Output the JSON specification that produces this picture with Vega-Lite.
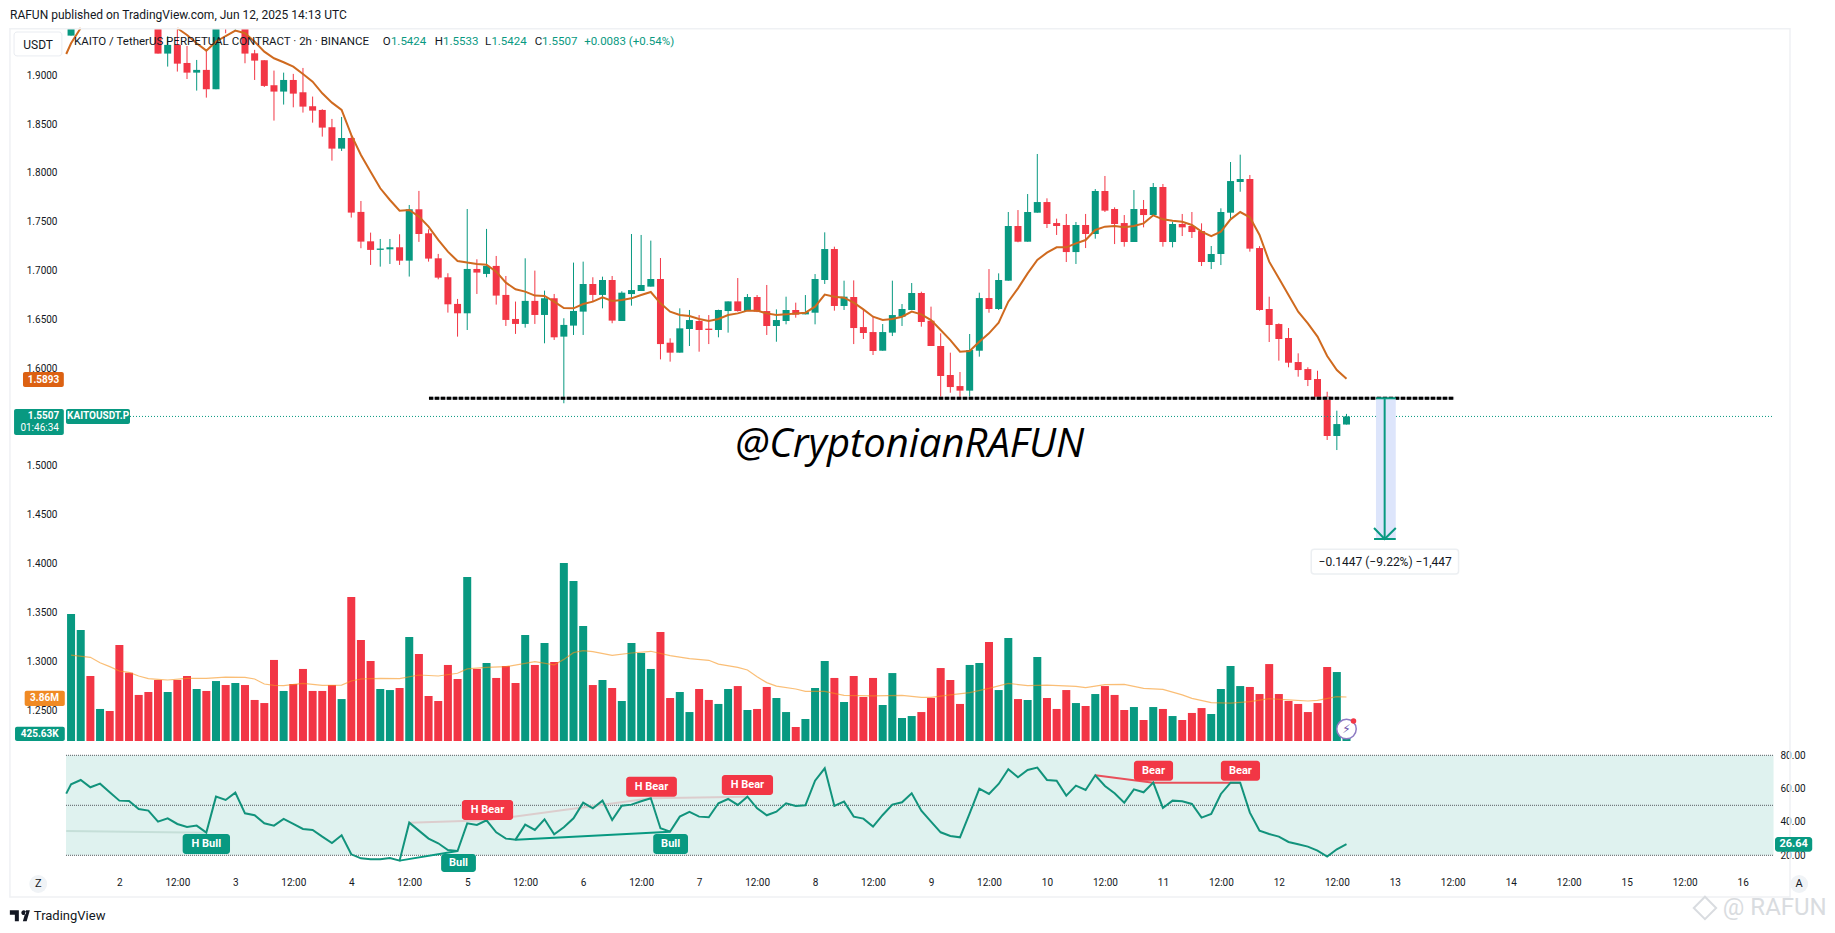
{
"$schema":"https://vega.github.io/schema/vega-lite/v6.json",
"width":1835,"height":933,"padding":0,"autosize":{"type":"none"},"background":"white",
"title":{"text":"RAFUN published on TradingView.com, Jun 12, 2025 14:13 UTC","anchor":"start","frame":"group","dx":10,"dy":3,"offset":-19,"fontSize":12,"fontWeight":"normal","font":"Roboto","color":"#131722"},
"config":{"view":{"stroke":null},"text":{"font":"Roboto","color":"#131722"}},
"datasets":{
"bars":[
{"t":"2025-06-01T13:00Z","ma":1.9218,"rsi":57},
{"t":"2025-06-01T14:00Z","o":1.9406,"h":1.985,"l":1.9406,"c":1.98,"v":11.14,"ma":1.9327,"rsi":62.6},
{"t":"2025-06-01T16:00Z","o":1.97,"h":1.985,"l":1.965,"c":1.98,"v":9.74,"ma":1.955,"rsi":65.2},
{"t":"2025-06-01T18:00Z","o":1.98,"h":1.985,"l":1.97,"c":1.975,"v":5.7,"ma":null,"rsi":60.8},
{"t":"2025-06-01T20:00Z","o":1.975,"h":1.985,"l":1.97,"c":1.98,"v":2.81,"ma":null,"rsi":63},
{"t":"2025-06-01T22:00Z","o":1.98,"h":1.985,"l":1.97,"c":1.975,"v":2.63,"ma":null,"rsi":57.8},
{"t":"2025-06-02T00:00Z","o":1.975,"h":1.98,"l":1.965,"c":1.97,"v":8.42,"ma":null,"rsi":52.8},
{"t":"2025-06-02T02:00Z","o":1.97,"h":1.975,"l":1.96,"c":1.965,"v":5.99,"ma":null,"rsi":52.6},
{"t":"2025-06-02T04:00Z","o":1.965,"h":1.97,"l":1.955,"c":1.96,"v":4.04,"ma":null,"rsi":47.8},
{"t":"2025-06-02T06:00Z","o":1.96,"h":1.965,"l":1.95,"c":1.955,"v":4.3,"ma":null,"rsi":46.8},
{"t":"2025-06-02T08:00Z","o":1.955,"h":1.96,"l":1.9222,"c":1.9222,"v":5.35,"ma":null,"rsi":40.2},
{"t":"2025-06-02T10:00Z","o":1.9222,"h":1.94,"l":1.9089,"c":1.9311,"v":4.3,"ma":null,"rsi":42.2},
{"t":"2025-06-02T12:00Z","o":1.9311,"h":1.9498,"l":1.9038,"c":1.9119,"v":5.35,"ma":1.9481,"rsi":38.8},
{"t":"2025-06-02T14:00Z","o":1.9126,"h":1.93,"l":1.8962,"c":1.9027,"v":5.7,"ma":1.9412,"rsi":37},
{"t":"2025-06-02T16:00Z","o":1.9027,"h":1.9157,"l":1.8843,"c":1.9055,"v":4.56,"ma":1.9327,"rsi":37.8},
{"t":"2025-06-02T18:00Z","o":1.9055,"h":1.9259,"l":1.8771,"c":1.8857,"v":4.39,"ma":1.9252,"rsi":33.6},
{"t":"2025-06-02T20:00Z","o":1.8857,"h":1.96,"l":1.8857,"c":1.955,"v":5.26,"ma":1.9344,"rsi":55.2},
{"t":"2025-06-02T22:00Z","o":1.96,"h":1.965,"l":1.943,"c":1.955,"v":4.91,"ma":1.9402,"rsi":53.2},
{"t":"2025-06-03T00:00Z","o":1.955,"h":1.97,"l":1.945,"c":1.965,"v":5.09,"ma":1.9457,"rsi":57.6},
{"t":"2025-06-03T02:00Z","o":1.965,"h":1.97,"l":1.9123,"c":1.9222,"v":4.91,"ma":1.943,"rsi":45.2},
{"t":"2025-06-03T04:00Z","o":1.9225,"h":1.926,"l":1.8952,"c":1.915,"v":3.6,"ma":1.9344,"rsi":44},
{"t":"2025-06-03T06:00Z","o":1.9154,"h":1.9154,"l":1.888,"c":1.8891,"v":3.33,"ma":1.9242,"rsi":39.2},
{"t":"2025-06-03T08:00Z","o":1.8898,"h":1.9048,"l":1.8536,"c":1.8833,"v":7.11,"ma":1.9174,"rsi":37.8},
{"t":"2025-06-03T10:00Z","o":1.8833,"h":1.9027,"l":1.87,"c":1.8952,"v":4.39,"ma":1.9133,"rsi":41.8},
{"t":"2025-06-03T12:00Z","o":1.8952,"h":1.9014,"l":1.8672,"c":1.8812,"v":5,"ma":1.9088,"rsi":38.8},
{"t":"2025-06-03T14:00Z","o":1.8826,"h":1.9075,"l":1.8618,"c":1.8679,"v":6.32,"ma":1.9013,"rsi":35.8},
{"t":"2025-06-03T16:00Z","o":1.8683,"h":1.8782,"l":1.8515,"c":1.8638,"v":4.39,"ma":1.8935,"rsi":35.2},
{"t":"2025-06-03T18:00Z","o":1.8645,"h":1.8652,"l":1.8372,"c":1.8464,"v":4.39,"ma":1.8815,"rsi":31.2},
{"t":"2025-06-03T20:00Z","o":1.8468,"h":1.8553,"l":1.8126,"c":1.8249,"v":4.91,"ma":1.872,"rsi":27.4},
{"t":"2025-06-03T22:00Z","o":1.8249,"h":1.8573,"l":1.8225,"c":1.8358,"v":3.68,"ma":1.8645,"rsi":32},
{"t":"2025-06-04T00:00Z","o":1.8358,"h":1.8389,"l":1.7543,"c":1.7594,"v":12.63,"ma":1.8389,"rsi":20.6},
{"t":"2025-06-04T02:00Z","o":1.7601,"h":1.7713,"l":1.7229,"c":1.7297,"v":8.86,"ma":1.8184,"rsi":18.2},
{"t":"2025-06-04T04:00Z","o":1.73,"h":1.7389,"l":1.7058,"c":1.7212,"v":7.02,"ma":1.8013,"rsi":17.6},
{"t":"2025-06-04T06:00Z","o":1.7212,"h":1.7324,"l":1.7041,"c":1.7226,"v":4.56,"ma":1.7843,"rsi":17.6},
{"t":"2025-06-04T08:00Z","o":1.7218,"h":1.7324,"l":1.7068,"c":1.7239,"v":4.47,"ma":1.7723,"rsi":18.4},
{"t":"2025-06-04T10:00Z","o":1.7239,"h":1.7372,"l":1.7058,"c":1.7102,"v":4.65,"ma":1.7614,"rsi":16.8},
{"t":"2025-06-04T12:00Z","o":1.7102,"h":1.7672,"l":1.6939,"c":1.7628,"v":9.12,"ma":1.7621,"rsi":39.6},
{"t":"2025-06-04T14:00Z","o":1.7628,"h":1.7816,"l":1.7294,"c":1.7375,"v":7.63,"ma":1.7553,"rsi":34.8},
{"t":"2025-06-04T16:00Z","o":1.7382,"h":1.7423,"l":1.7092,"c":1.7123,"v":3.95,"ma":1.745,"rsi":30},
{"t":"2025-06-04T18:00Z","o":1.7126,"h":1.7171,"l":1.6911,"c":1.6928,"v":3.51,"ma":1.7314,"rsi":27.2},
{"t":"2025-06-04T20:00Z","o":1.6932,"h":1.6973,"l":1.657,"c":1.6655,"v":6.67,"ma":1.7194,"rsi":23.2},
{"t":"2025-06-04T22:00Z","o":1.6659,"h":1.671,"l":1.6324,"c":1.6563,"v":5.44,"ma":1.7099,"rsi":22.6},
{"t":"2025-06-05T00:00Z","o":1.6563,"h":1.7631,"l":1.6392,"c":1.7017,"v":14.39,"ma":1.7082,"rsi":39.2},
{"t":"2025-06-05T02:00Z","o":1.7017,"h":1.7116,"l":1.6761,"c":1.698,"v":6.32,"ma":1.7068,"rsi":38.2},
{"t":"2025-06-05T04:00Z","o":1.6966,"h":1.7427,"l":1.6932,"c":1.7048,"v":6.84,"ma":1.7061,"rsi":41},
{"t":"2025-06-05T06:00Z","o":1.7048,"h":1.715,"l":1.6652,"c":1.6744,"v":5.53,"ma":1.6989,"rsi":33.8},
{"t":"2025-06-05T08:00Z","o":1.6751,"h":1.6945,"l":1.6433,"c":1.6495,"v":6.58,"ma":1.6877,"rsi":30},
{"t":"2025-06-05T10:00Z","o":1.6505,"h":1.6683,"l":1.6352,"c":1.6454,"v":5.09,"ma":1.6809,"rsi":29.4},
{"t":"2025-06-05T12:00Z","o":1.6454,"h":1.7126,"l":1.6416,"c":1.669,"v":9.3,"ma":1.6785,"rsi":38.4},
{"t":"2025-06-05T14:00Z","o":1.669,"h":1.7,"l":1.6454,"c":1.6546,"v":6.67,"ma":1.6744,"rsi":35.2},
{"t":"2025-06-05T16:00Z","o":1.6546,"h":1.6795,"l":1.6256,"c":1.6717,"v":8.6,"ma":1.674,"rsi":41.6},
{"t":"2025-06-05T18:00Z","o":1.6717,"h":1.6761,"l":1.629,"c":1.6317,"v":6.93,"ma":1.6682,"rsi":32.6},
{"t":"2025-06-05T20:00Z","o":1.6324,"h":1.6512,"l":1.5642,"c":1.6444,"v":15.61,"ma":1.6617,"rsi":36.8},
{"t":"2025-06-05T22:00Z","o":1.6437,"h":1.7082,"l":1.6341,"c":1.6587,"v":14.04,"ma":1.6614,"rsi":42.2},
{"t":"2025-06-06T00:00Z","o":1.658,"h":1.7092,"l":1.6341,"c":1.6863,"v":10.09,"ma":1.6658,"rsi":51.6},
{"t":"2025-06-06T02:00Z","o":1.6863,"h":1.6932,"l":1.668,"c":1.6751,"v":4.91,"ma":1.6682,"rsi":48.2},
{"t":"2025-06-06T04:00Z","o":1.6751,"h":1.6938,"l":1.6614,"c":1.6904,"v":5.35,"ma":1.6727,"rsi":52.8},
{"t":"2025-06-06T06:00Z","o":1.6904,"h":1.6945,"l":1.6461,"c":1.6488,"v":4.65,"ma":1.6689,"rsi":41.2},
{"t":"2025-06-06T08:00Z","o":1.6484,"h":1.6788,"l":1.6484,"c":1.6774,"v":3.51,"ma":1.6699,"rsi":49.8},
{"t":"2025-06-06T10:00Z","o":1.676,"h":1.7375,"l":1.6641,"c":1.6801,"v":8.6,"ma":1.6716,"rsi":50.4},
{"t":"2025-06-06T12:00Z","o":1.6791,"h":1.7365,"l":1.6791,"c":1.6853,"v":7.72,"ma":1.675,"rsi":52.4},
{"t":"2025-06-06T14:00Z","o":1.6836,"h":1.7307,"l":1.6836,"c":1.6914,"v":6.32,"ma":1.6781,"rsi":54.2},
{"t":"2025-06-06T16:00Z","o":1.6914,"h":1.7129,"l":1.6091,"c":1.6248,"v":9.56,"ma":1.6665,"rsi":36.2},
{"t":"2025-06-06T18:00Z","o":1.6262,"h":1.6307,"l":1.6068,"c":1.616,"v":3.77,"ma":1.658,"rsi":34.2},
{"t":"2025-06-06T20:00Z","o":1.616,"h":1.6614,"l":1.616,"c":1.6409,"v":4.3,"ma":1.6545,"rsi":43.2},
{"t":"2025-06-06T22:00Z","o":1.6402,"h":1.6597,"l":1.6228,"c":1.6494,"v":2.54,"ma":1.6535,"rsi":46},
{"t":"2025-06-07T00:00Z","o":1.6484,"h":1.6545,"l":1.617,"c":1.6392,"v":4.56,"ma":1.6505,"rsi":43.2},
{"t":"2025-06-07T02:00Z","o":1.6406,"h":1.6545,"l":1.6248,"c":1.6392,"v":3.6,"ma":1.6484,"rsi":42.8},
{"t":"2025-06-07T04:00Z","o":1.6392,"h":1.66,"l":1.6317,"c":1.6597,"v":3.25,"ma":1.6505,"rsi":51.2},
{"t":"2025-06-07T06:00Z","o":1.6586,"h":1.6685,"l":1.6365,"c":1.6685,"v":4.56,"ma":1.6545,"rsi":53.8},
{"t":"2025-06-07T08:00Z","o":1.6685,"h":1.6924,"l":1.658,"c":1.6586,"v":4.82,"ma":1.6562,"rsi":50.2},
{"t":"2025-06-07T10:00Z","o":1.6586,"h":1.676,"l":1.6586,"c":1.673,"v":2.72,"ma":1.659,"rsi":55.2},
{"t":"2025-06-07T12:00Z","o":1.673,"h":1.675,"l":1.6575,"c":1.658,"v":2.81,"ma":1.659,"rsi":48.2},
{"t":"2025-06-07T14:00Z","o":1.6586,"h":1.6853,"l":1.6341,"c":1.6433,"v":4.74,"ma":1.6562,"rsi":44},
{"t":"2025-06-07T16:00Z","o":1.6433,"h":1.6603,"l":1.6272,"c":1.6494,"v":3.77,"ma":1.6545,"rsi":46.2},
{"t":"2025-06-07T18:00Z","o":1.6484,"h":1.6733,"l":1.645,"c":1.6597,"v":2.54,"ma":1.6552,"rsi":51.2},
{"t":"2025-06-07T20:00Z","o":1.6597,"h":1.6672,"l":1.6518,"c":1.6549,"v":1.23,"ma":1.6562,"rsi":49.6},
{"t":"2025-06-07T22:00Z","o":1.6552,"h":1.675,"l":1.6552,"c":1.6576,"v":1.93,"ma":1.6569,"rsi":50},
{"t":"2025-06-08T00:00Z","o":1.6569,"h":1.6965,"l":1.645,"c":1.6914,"v":4.65,"ma":1.6631,"rsi":64.8},
{"t":"2025-06-08T02:00Z","o":1.6904,"h":1.7392,"l":1.6863,"c":1.7221,"v":7.02,"ma":1.6754,"rsi":72.2},
{"t":"2025-06-08T04:00Z","o":1.7221,"h":1.7245,"l":1.659,"c":1.6638,"v":5.53,"ma":1.6733,"rsi":49.6},
{"t":"2025-06-08T06:00Z","o":1.6638,"h":1.6897,"l":1.6597,"c":1.6733,"v":3.42,"ma":1.6723,"rsi":52.2},
{"t":"2025-06-08T08:00Z","o":1.673,"h":1.69,"l":1.6248,"c":1.6412,"v":5.7,"ma":1.6672,"rsi":43.2},
{"t":"2025-06-08T10:00Z","o":1.6422,"h":1.6597,"l":1.63,"c":1.6361,"v":3.86,"ma":1.6603,"rsi":42},
{"t":"2025-06-08T12:00Z","o":1.6371,"h":1.6528,"l":1.6136,"c":1.6177,"v":5.53,"ma":1.6528,"rsi":37.2},
{"t":"2025-06-08T14:00Z","o":1.618,"h":1.6453,"l":1.618,"c":1.6371,"v":3.16,"ma":1.6494,"rsi":44.2},
{"t":"2025-06-08T16:00Z","o":1.6365,"h":1.6897,"l":1.633,"c":1.6545,"v":5.96,"ma":1.6505,"rsi":50.4},
{"t":"2025-06-08T18:00Z","o":1.6528,"h":1.6658,"l":1.6433,"c":1.6607,"v":2.02,"ma":1.6528,"rsi":51.8},
{"t":"2025-06-08T20:00Z","o":1.6597,"h":1.6873,"l":1.6597,"c":1.6771,"v":2.19,"ma":1.658,"rsi":57.2},
{"t":"2025-06-08T22:00Z","o":1.6771,"h":1.6784,"l":1.6426,"c":1.6474,"v":2.54,"ma":1.6552,"rsi":46.8},
{"t":"2025-06-09T00:00Z","o":1.6487,"h":1.6631,"l":1.6228,"c":1.6228,"v":3.77,"ma":1.6494,"rsi":40.2},
{"t":"2025-06-09T02:00Z","o":1.6228,"h":1.6358,"l":1.5709,"c":1.5921,"v":6.4,"ma":1.6392,"rsi":33.8},
{"t":"2025-06-09T04:00Z","o":1.5931,"h":1.616,"l":1.575,"c":1.5808,"v":5.35,"ma":1.6289,"rsi":31.6},
{"t":"2025-06-09T06:00Z","o":1.5818,"h":1.5962,"l":1.5682,"c":1.5771,"v":3.25,"ma":1.617,"rsi":30.8},
{"t":"2025-06-09T08:00Z","o":1.5771,"h":1.6351,"l":1.5709,"c":1.6187,"v":6.67,"ma":1.6177,"rsi":45.2},
{"t":"2025-06-09T10:00Z","o":1.618,"h":1.6774,"l":1.6119,"c":1.6719,"v":6.84,"ma":1.6272,"rsi":60},
{"t":"2025-06-09T12:00Z","o":1.6719,"h":1.7016,"l":1.6569,"c":1.6607,"v":8.68,"ma":1.6358,"rsi":56.8},
{"t":"2025-06-09T14:00Z","o":1.6607,"h":1.6972,"l":1.6597,"c":1.6904,"v":4.47,"ma":1.6467,"rsi":62.8},
{"t":"2025-06-09T16:00Z","o":1.6897,"h":1.76,"l":1.6897,"c":1.7457,"v":9.04,"ma":1.6682,"rsi":71.6},
{"t":"2025-06-09T18:00Z","o":1.7457,"h":1.762,"l":1.729,"c":1.7296,"v":3.68,"ma":1.6818,"rsi":66.8},
{"t":"2025-06-09T20:00Z","o":1.7296,"h":1.7784,"l":1.7296,"c":1.76,"v":3.6,"ma":1.6972,"rsi":71.2},
{"t":"2025-06-09T22:00Z","o":1.7593,"h":1.8194,"l":1.7593,"c":1.7702,"v":7.37,"ma":1.7109,"rsi":72.6},
{"t":"2025-06-10T00:00Z","o":1.7702,"h":1.774,"l":1.7436,"c":1.7477,"v":3.77,"ma":1.7184,"rsi":65.2},
{"t":"2025-06-10T02:00Z","o":1.7487,"h":1.7532,"l":1.7365,"c":1.7457,"v":2.81,"ma":1.7238,"rsi":64.8},
{"t":"2025-06-10T04:00Z","o":1.7467,"h":1.758,"l":1.7088,"c":1.719,"v":4.47,"ma":1.7238,"rsi":55.8},
{"t":"2025-06-10T06:00Z","o":1.719,"h":1.7498,"l":1.7068,"c":1.7467,"v":3.33,"ma":1.7279,"rsi":61.8},
{"t":"2025-06-10T08:00Z","o":1.7467,"h":1.758,"l":1.7231,"c":1.7375,"v":3.07,"ma":1.7313,"rsi":59.2},
{"t":"2025-06-10T10:00Z","o":1.7375,"h":1.7835,"l":1.7327,"c":1.7815,"v":4.12,"ma":1.7416,"rsi":68},
{"t":"2025-06-10T12:00Z","o":1.7815,"h":1.7969,"l":1.76,"c":1.7614,"v":4.82,"ma":1.745,"rsi":61.6},
{"t":"2025-06-10T14:00Z","o":1.7631,"h":1.7648,"l":1.7272,"c":1.7477,"v":4.04,"ma":1.7457,"rsi":57.2},
{"t":"2025-06-10T16:00Z","o":1.7487,"h":1.7569,"l":1.7245,"c":1.7293,"v":2.72,"ma":1.7443,"rsi":51.6},
{"t":"2025-06-10T18:00Z","o":1.7293,"h":1.7825,"l":1.7293,"c":1.7631,"v":2.98,"ma":1.7457,"rsi":59.6},
{"t":"2025-06-10T20:00Z","o":1.7631,"h":1.7723,"l":1.7443,"c":1.7569,"v":1.84,"ma":1.7484,"rsi":57.8},
{"t":"2025-06-10T22:00Z","o":1.7569,"h":1.7897,"l":1.7569,"c":1.7856,"v":2.98,"ma":1.7566,"rsi":63.6},
{"t":"2025-06-11T00:00Z","o":1.7856,"h":1.7887,"l":1.7245,"c":1.7293,"v":2.81,"ma":1.7525,"rsi":48.4},
{"t":"2025-06-11T02:00Z","o":1.7293,"h":1.7501,"l":1.7238,"c":1.7477,"v":2.19,"ma":1.7511,"rsi":52.8},
{"t":"2025-06-11T04:00Z","o":1.7477,"h":1.758,"l":1.7354,"c":1.7443,"v":1.84,"ma":1.7501,"rsi":52.4},
{"t":"2025-06-11T06:00Z","o":1.7457,"h":1.76,"l":1.7334,"c":1.7395,"v":2.46,"ma":1.7467,"rsi":50.8},
{"t":"2025-06-11T08:00Z","o":1.7405,"h":1.7484,"l":1.7047,"c":1.7088,"v":2.89,"ma":1.7399,"rsi":42.6},
{"t":"2025-06-11T10:00Z","o":1.7088,"h":1.7252,"l":1.7016,"c":1.717,"v":2.37,"ma":1.7354,"rsi":44.8},
{"t":"2025-06-11T12:00Z","o":1.717,"h":1.7638,"l":1.7057,"c":1.76,"v":4.56,"ma":1.7399,"rsi":56.8},
{"t":"2025-06-11T14:00Z","o":1.7593,"h":1.8112,"l":1.7535,"c":1.7917,"v":6.58,"ma":1.7525,"rsi":63.6},
{"t":"2025-06-11T16:00Z","o":1.7907,"h":1.8187,"l":1.7808,"c":1.7938,"v":4.82,"ma":1.76,"rsi":63.6},
{"t":"2025-06-11T18:00Z","o":1.7938,"h":1.7979,"l":1.7194,"c":1.7225,"v":4.74,"ma":1.7546,"rsi":45.6},
{"t":"2025-06-11T20:00Z","o":1.7231,"h":1.725,"l":1.659,"c":1.6597,"v":4.12,"ma":1.7365,"rsi":34.8},
{"t":"2025-06-11T22:00Z","o":1.6607,"h":1.6733,"l":1.6269,"c":1.6443,"v":6.75,"ma":1.7092,"rsi":32.8},
{"t":"2025-06-12T00:00Z","o":1.6453,"h":1.646,"l":1.6078,"c":1.63,"v":4.12,"ma":1.6921,"rsi":31.2},
{"t":"2025-06-12T02:00Z","o":1.631,"h":1.6412,"l":1.601,"c":1.6057,"v":3.51,"ma":1.675,"rsi":28},
{"t":"2025-06-12T04:00Z","o":1.6064,"h":1.6153,"l":1.5914,"c":1.5982,"v":3.25,"ma":1.658,"rsi":26.6},
{"t":"2025-06-12T06:00Z","o":1.5992,"h":1.601,"l":1.5818,"c":1.588,"v":2.54,"ma":1.646,"rsi":25.2},
{"t":"2025-06-12T08:00Z","o":1.589,"h":1.5975,"l":1.5695,"c":1.5702,"v":3.33,"ma":1.6324,"rsi":22.8},
{"t":"2025-06-12T10:00Z","o":1.5709,"h":1.576,"l":1.5266,"c":1.5307,"v":6.49,"ma":1.6126,"rsi":19.2},
{"t":"2025-06-12T12:00Z","o":1.5307,"h":1.5566,"l":1.5163,"c":1.5429,"v":6.05,"ma":1.5982,"rsi":23.6},
{"t":"2025-06-12T14:00Z","o":1.5424,"h":1.5533,"l":1.5424,"c":1.5507,"v":0.43,"ma":1.5893,"rsi":26.64}
],
"vma":[
{"t":"2025-06-01T14:00Z","m":7.54},{"t":"2025-06-01T18:00Z","m":7.34},{"t":"2025-06-01T20:00Z","m":6.87},{"t":"2025-06-01T22:00Z","m":6.52},{"t":"2025-06-02T00:00Z","m":6.14},{"t":"2025-06-02T02:00Z","m":6.02},{"t":"2025-06-02T04:00Z","m":5.7},{"t":"2025-06-02T06:00Z","m":5.47},{"t":"2025-06-02T08:00Z","m":5.41},{"t":"2025-06-02T10:00Z","m":5.35},{"t":"2025-06-02T14:00Z","m":5.5},{"t":"2025-06-02T18:00Z","m":5.5},{"t":"2025-06-02T22:00Z","m":5.61},{"t":"2025-06-03T02:00Z","m":5.58},{"t":"2025-06-03T04:00Z","m":5.44},{"t":"2025-06-03T06:00Z","m":5},{"t":"2025-06-03T08:00Z","m":4.88},{"t":"2025-06-03T10:00Z","m":4.85},{"t":"2025-06-03T14:00Z","m":5.06},{"t":"2025-06-03T18:00Z","m":4.88},{"t":"2025-06-03T22:00Z","m":4.91},{"t":"2025-06-04T00:00Z","m":5.26},{"t":"2025-06-04T02:00Z","m":5.44},{"t":"2025-06-04T06:00Z","m":5.5},{"t":"2025-06-04T10:00Z","m":5.47},{"t":"2025-06-04T14:00Z","m":5.79},{"t":"2025-06-04T18:00Z","m":5.7},{"t":"2025-06-04T22:00Z","m":5.94},{"t":"2025-06-05T00:00Z","m":6.32},{"t":"2025-06-05T04:00Z","m":6.46},{"t":"2025-06-05T08:00Z","m":6.52},{"t":"2025-06-05T12:00Z","m":6.81},{"t":"2025-06-05T14:00Z","m":6.96},{"t":"2025-06-05T18:00Z","m":6.67},{"t":"2025-06-05T20:00Z","m":7.16},{"t":"2025-06-05T22:00Z","m":7.75},{"t":"2025-06-06T00:00Z","m":7.92},{"t":"2025-06-06T02:00Z","m":7.84},{"t":"2025-06-06T06:00Z","m":7.51},{"t":"2025-06-06T10:00Z","m":7.72},{"t":"2025-06-06T14:00Z","m":7.87},{"t":"2025-06-06T18:00Z","m":7.49},{"t":"2025-06-06T22:00Z","m":7.22},{"t":"2025-06-07T02:00Z","m":7.08},{"t":"2025-06-07T04:00Z","m":6.75},{"t":"2025-06-07T08:00Z","m":6.46},{"t":"2025-06-07T10:00Z","m":6.23},{"t":"2025-06-07T12:00Z","m":5.64},{"t":"2025-06-07T14:00Z","m":5.12},{"t":"2025-06-07T16:00Z","m":4.82},{"t":"2025-06-07T20:00Z","m":4.56},{"t":"2025-06-07T22:00Z","m":4.36},{"t":"2025-06-08T02:00Z","m":4.36},{"t":"2025-06-08T06:00Z","m":4.01},{"t":"2025-06-08T12:00Z","m":3.95},{"t":"2025-06-08T18:00Z","m":4.01},{"t":"2025-06-08T22:00Z","m":3.83},{"t":"2025-06-09T00:00Z","m":3.83},{"t":"2025-06-09T04:00Z","m":4.04},{"t":"2025-06-09T08:00Z","m":4.24},{"t":"2025-06-09T12:00Z","m":4.62},{"t":"2025-06-09T16:00Z","m":5.06},{"t":"2025-06-09T20:00Z","m":4.85},{"t":"2025-06-10T00:00Z","m":4.91},{"t":"2025-06-10T06:00Z","m":4.8},{"t":"2025-06-10T08:00Z","m":4.68},{"t":"2025-06-10T12:00Z","m":4.94},{"t":"2025-06-10T16:00Z","m":4.97},{"t":"2025-06-10T20:00Z","m":4.62},{"t":"2025-06-11T00:00Z","m":4.53},{"t":"2025-06-11T04:00Z","m":4.04},{"t":"2025-06-11T06:00Z","m":3.74},{"t":"2025-06-11T10:00Z","m":3.36},{"t":"2025-06-11T14:00Z","m":3.33},{"t":"2025-06-11T18:00Z","m":3.45},{"t":"2025-06-11T22:00Z","m":3.71},{"t":"2025-06-12T02:00Z","m":3.6},{"t":"2025-06-12T06:00Z","m":3.51},{"t":"2025-06-12T08:00Z","m":3.57},{"t":"2025-06-12T12:00Z","m":3.89},{"t":"2025-06-12T14:00Z","m":3.86}
],
"divs":[
{"id":"a","kind":"hbull","t":"2025-06-01T13:00Z","r":34.6},{"id":"a","kind":"hbull","t":"2025-06-02T18:00Z","r":33.6},
{"id":"b","kind":"bull","t":"2025-06-04T10:00Z","r":16.8},{"id":"b","kind":"bull","t":"2025-06-04T22:00Z","r":22.6},
{"id":"c","kind":"hbear","t":"2025-06-04T12:00Z","r":39.6},{"id":"c","kind":"hbear","t":"2025-06-05T04:00Z","r":41},
{"id":"d","kind":"hbear","t":"2025-06-05T04:00Z","r":41},{"id":"d","kind":"hbear","t":"2025-06-06T14:00Z","r":54.2},
{"id":"e","kind":"hbear","t":"2025-06-06T14:00Z","r":54.2},{"id":"e","kind":"hbear","t":"2025-06-07T10:00Z","r":55.2},
{"id":"f","kind":"bull","t":"2025-06-05T10:00Z","r":29.4},{"id":"f","kind":"bull","t":"2025-06-06T18:00Z","r":34.2},
{"id":"g","kind":"bear","t":"2025-06-10T10:00Z","r":68},{"id":"g","kind":"bear","t":"2025-06-10T22:00Z","r":63.6},
{"id":"h","kind":"bear","t":"2025-06-10T22:00Z","r":63.6},{"id":"h","kind":"bear","t":"2025-06-11T16:00Z","r":63.6}
],
"rsiTags":[
{"label":"H Bull","kind":"bull","t1":"2025-06-02T13:06Z","t2":"2025-06-02T22:54Z","tm":"2025-06-02T18:00Z","y1":32.8,"y2":20.8,"ym":26.8},
{"label":"Bull","kind":"bull","t1":"2025-06-04T18:36Z","t2":"2025-06-05T01:48Z","tm":"2025-06-04T22:12Z","y1":20.8,"y2":10,"ym":15.4},
{"label":"H Bear","kind":"bear","t1":"2025-06-04T22:54Z","t2":"2025-06-05T09:30Z","tm":"2025-06-05T04:12Z","y1":53.2,"y2":41.2,"ym":47.2},
{"label":"H Bear","kind":"bear","t1":"2025-06-06T08:54Z","t2":"2025-06-06T19:24Z","tm":"2025-06-06T14:09Z","y1":67.2,"y2":55.2,"ym":61.2},
{"label":"Bull","kind":"bull","t1":"2025-06-06T14:30Z","t2":"2025-06-06T21:42Z","tm":"2025-06-06T18:06Z","y1":32.8,"y2":20.8,"ym":26.8},
{"label":"H Bear","kind":"bear","t1":"2025-06-07T04:42Z","t2":"2025-06-07T15:18Z","tm":"2025-06-07T10:00Z","y1":68.2,"y2":56.2,"ym":62.2},
{"label":"Bear","kind":"bear","t1":"2025-06-10T18:00Z","t2":"2025-06-11T02:06Z","tm":"2025-06-10T22:03Z","y1":76.7,"y2":64.7,"ym":70.7},
{"label":"Bear","kind":"bear","t1":"2025-06-11T12:00Z","t2":"2025-06-11T20:06Z","tm":"2025-06-11T16:03Z","y1":76.7,"y2":64.7,"ym":70.7},
{"label":"26.64","kind":"bull","t1":"2025-06-16T06:42Z","t2":"2025-06-16T14:24Z","tm":"2025-06-16T10:33Z","y1":31,"y2":22.2,"ym":26.64}
],
"priceTags":[
{"label":"1.5893","kind":"ma","t1":"2025-06-01T04:03Z","t2":"2025-06-01T12:30Z","tm":"2025-06-01T08:18Z","y1":1.5962,"y2":1.5809,"ym":1.5885},
{"label":"1.5507","kind":"last","t1":"2025-06-01T02:12Z","t2":"2025-06-01T12:30Z","tm":"2025-06-01T08:18Z","y1":1.5583,"y2":1.5317,"ym":1.5507},
{"label":"KAITOUSDT.P","kind":"last","t1":"2025-06-01T12:57Z","t2":"2025-06-02T02:12Z","tm":"2025-06-01T19:36Z","y1":1.5583,"y2":1.5429,"ym":1.5507}
],
"volTags":[
{"label":"3.86M","kind":"vma","t1":"2025-06-01T04:24Z","t2":"2025-06-01T12:42Z","tm":"2025-06-01T08:30Z","y1":4.41,"y2":3.07,"ym":3.74},
{"label":"425.63K","kind":"last","t1":"2025-06-01T02:24Z","t2":"2025-06-01T12:42Z","tm":"2025-06-01T07:30Z","y1":1.25,"y2":0,"ym":0.63}
],
"ohlcDark":[
{"label":"KAITO / TetherUS PERPETUAL CONTRACT · 2h · BINANCE","t":"2025-06-01T14:36Z"},
{"label":"O","t":"2025-06-04T06:30Z"},{"label":"H","t":"2025-06-04T17:18Z"},{"label":"L","t":"2025-06-05T03:42Z"},{"label":"C","t":"2025-06-05T14:00Z"}
],
"ohlcTeal":[
{"label":"1.5424","t":"2025-06-04T08:12Z"},{"label":"1.5533","t":"2025-06-04T19:00Z"},{"label":"1.5424","t":"2025-06-05T05:00Z"},{"label":"1.5507","t":"2025-06-05T15:30Z"},{"label":"+0.0083 (+0.54%)","t":"2025-06-06T00:12Z"}
],
"measure":[
{"id":"shaft","t":"2025-06-12T21:54Z","p":1.5693},{"id":"shaft","t":"2025-06-12T21:54Z","p":1.4252},
{"id":"head","t":"2025-06-12T19:42Z","p":1.4365},{"id":"head","t":"2025-06-12T21:54Z","p":1.4252},{"id":"head","t":"2025-06-13T00:12Z","p":1.4365},
{"id":"base","t":"2025-06-12T19:42Z","p":1.4252},{"id":"base","t":"2025-06-13T00:12Z","p":1.4252},
{"id":"cap","t":"2025-06-12T20:06Z","p":1.5693},{"id":"cap","t":"2025-06-13T00:12Z","p":1.5693}
]
},
"data":{"name":"bars"},
"encoding":{"x":{"field":"t","type":"temporal","title":null,
 "scale":{"type":"utc","domain":[1748779200000,1750060800000],"range":[61.4,1781.3],"nice":false,"padding":0},
 "axis":{"title":null,"orient":"bottom","offset":-56,"domain":false,"ticks":false,"grid":false,"labelPadding":0,"labelBaseline":"top","labelFontSize":10,"labelFont":"Roboto","labelColor":"#131722","labelOverlap":false,"labelFlush":false,"tickCount":40,"labelExpr":"datum.value<1748800000000?'':(utchours(datum.value)===12?'12:00':''+utcdate(datum.value))"}}},
"layer":[
{"data":{"values":[{"t":"2025-06-05T00:00Z","p":1.6}]},"mark":{"type":"point","opacity":0},"encoding":{
  "y":{"field":"p","type":"quantitative","title":null,"scale":{"domain":[1.2184,1.9484],"range":[741,28],"zero":false,"nice":false},
   "axis":{"title":null,"orient":"left","offset":-60,"values":[1.25,1.3,1.35,1.4,1.45,1.5,1.6,1.65,1.7,1.75,1.8,1.85,1.9],"format":".4f","domain":false,"ticks":false,"grid":false,"labelPadding":3,"labelFontSize":10,"labelFont":"Roboto","labelColor":"#131722"}}}},
{"data":{"values":[{"t":"2025-06-05T00:00Z","r":50}]},"mark":{"type":"point","opacity":0},"encoding":{
  "y":{"field":"r","type":"quantitative","title":null,"scale":{"domain":[20,80],"range":[855.3,755.3],"zero":false,"nice":false},
   "axis":{"title":null,"orient":"right","offset":-61,"values":[20,40,60,80],"format":".2f","domain":false,"ticks":false,"grid":false,"labelPadding":6,"labelFontSize":10,"labelFont":"Roboto","labelColor":"#131722"}}}},
{"layer":[
 {"mark":{"type":"rule","strokeWidth":1},"encoding":{
  "y":{"field":"l","type":"quantitative","axis":null,"scale":{"domain":[1.2184,1.9484],"range":[741,28],"clamp":true,"zero":false,"nice":false}},
  "y2":{"field":"h"},
  "color":{"condition":{"test":"datum.c>=datum.o","value":"#089981"},"value":"#F23645"}}},
 {"mark":{"type":"bar","size":7},"encoding":{
  "y":{"field":"o","type":"quantitative","axis":null},"y2":{"field":"c"},
  "color":{"condition":{"test":"datum.c>=datum.o","value":"#089981"},"value":"#F23645"}}},
 {"mark":{"type":"line","color":"#CF6A1F","strokeWidth":2},"encoding":{"y":{"field":"ma","type":"quantitative","axis":null}}},
 {"data":{"values":[{"t1":"2025-06-04T16:05Z","t2":"2025-06-13T12:16Z","p":1.5693}]},"mark":{"type":"rule","color":"#9a9ca0","strokeWidth":3},"encoding":{"x":{"field":"t1","type":"temporal"},"x2":{"field":"t2"},"y":{"field":"p","type":"quantitative","axis":null}}},
 {"data":{"values":[{"t1":"2025-06-04T16:05Z","t2":"2025-06-13T12:16Z","p":1.5693}]},"mark":{"type":"rule","color":"#000000","strokeWidth":3,"strokeDash":[4,2]},"encoding":{"x":{"field":"t1","type":"temporal"},"x2":{"field":"t2"},"y":{"field":"p","type":"quantitative","axis":null}}},
 {"data":{"values":[{"t1":"2025-06-02T02:12Z","t2":"2025-06-16T06:24Z","p":1.5507}]},"mark":{"type":"rule","color":"#089981","strokeWidth":1,"strokeDash":[1,2]},"encoding":{"x":{"field":"t1","type":"temporal"},"x2":{"field":"t2"},"y":{"field":"p","type":"quantitative","axis":null}}},
 {"data":{"values":[{"t1":"2025-06-12T20:06Z","t2":"2025-06-13T00:12Z","p1":1.5693,"p2":1.4252}]},"mark":{"type":"rect","color":"#DDE5FB"},"encoding":{"x":{"field":"t1","type":"temporal"},"x2":{"field":"t2"},"y":{"field":"p1","type":"quantitative","axis":null},"y2":{"field":"p2"}}},
 {"data":{"name":"measure"},"mark":{"type":"line","color":"#089981","strokeWidth":2},"encoding":{"y":{"field":"p","type":"quantitative","axis":null},"detail":{"field":"id"}}},
 {"data":{"values":[{"t1":"2025-06-12T06:42Z","t2":"2025-06-13T13:12Z","p1":1.4147,"p2":1.3894}]},"mark":{"type":"rect","fill":"#ffffff","stroke":"#eceff2","strokeWidth":1.5,"cornerRadius":3},"encoding":{"x":{"field":"t1","type":"temporal"},"x2":{"field":"t2"},"y":{"field":"p1","type":"quantitative","axis":null},"y2":{"field":"p2"}}},
 {"data":{"values":[{"label":"−0.1447 (−9.22%) −1,447","t":"2025-06-12T22:00Z","p":1.4021}]},"mark":{"type":"text","fontSize":12,"align":"center","baseline":"middle"},"encoding":{"y":{"field":"p","type":"quantitative","axis":null},"text":{"field":"label"}}},
 {"data":{"values":[{"label":"@CryptonianRAFUN","t":"2025-06-08T19:36Z","p":1.5215}]},"mark":{"type":"text","font":"Open Sans","fontStyle":"italic","fontSize":40,"align":"center","baseline":"middle","color":"#000000"},"encoding":{"y":{"field":"p","type":"quantitative","axis":null},"text":{"field":"label"}}},
 {"data":{"values":[{"t1":"2025-06-01T02:12Z","t2":"2025-06-01T12:06Z","p1":1.9443,"p2":1.9198}]},"mark":{"type":"rect","fill":"#ffffff","stroke":"#e9ecf1","cornerRadius":3},"encoding":{"x":{"field":"t1","type":"temporal"},"x2":{"field":"t2"},"y":{"field":"p1","type":"quantitative","axis":null},"y2":{"field":"p2"}}},
 {"data":{"values":[{"label":"USDT","t":"2025-06-01T07:11Z","p":1.9315}]},"mark":{"type":"text","fontSize":12,"align":"center","baseline":"middle"},"encoding":{"y":{"field":"p","type":"quantitative","axis":null},"text":{"field":"label"}}},
 {"data":{"name":"ohlcDark"},"mark":{"type":"text","fontSize":11.5,"align":"left","baseline":"middle"},"encoding":{"y":{"datum":1.9344,"type":"quantitative","axis":null},"text":{"field":"label"}}},
 {"data":{"name":"ohlcTeal"},"mark":{"type":"text","fontSize":11.5,"align":"left","baseline":"middle","color":"#089981"},"encoding":{"y":{"datum":1.9344,"type":"quantitative","axis":null},"text":{"field":"label"}}},
 {"data":{"name":"priceTags"},"mark":{"type":"rect","cornerRadius":2},"encoding":{"x":{"field":"t1","type":"temporal"},"x2":{"field":"t2"},"y":{"field":"y1","type":"quantitative","axis":null},"y2":{"field":"y2"},"color":{"condition":{"test":"datum.kind==='ma'","value":"#DC6112"},"value":"#089981"}}},
 {"data":{"name":"priceTags"},"mark":{"type":"text","fontSize":10,"fontWeight":"bold","align":"center","baseline":"middle","color":"#ffffff"},"encoding":{"x":{"field":"tm","type":"temporal"},"y":{"field":"ym","type":"quantitative","axis":null},"text":{"field":"label"}}},
 {"data":{"values":[{"label":"01:46:34","t":"2025-06-01T07:30Z","p":1.5389}]},"mark":{"type":"text","fontSize":10,"align":"center","baseline":"middle","color":"#ffffff"},"encoding":{"y":{"field":"p","type":"quantitative","axis":null},"text":{"field":"label"}}}
]},
{"layer":[
 {"mark":{"type":"bar","size":8},"encoding":{
  "y":{"field":"v","type":"quantitative","axis":null,"scale":{"domain":[0,15.79],"range":[741,561],"nice":false}},
  "color":{"condition":{"test":"datum.c>=datum.o","value":"#089981"},"value":"#F23645"}}},
 {"data":{"name":"vma"},"mark":{"type":"line","color":"#F7931A","opacity":0.6,"strokeWidth":1.2},"encoding":{"y":{"field":"m","type":"quantitative","axis":null}}},
 {"data":{"values":[{"t":"2025-06-12T14:00Z","v":1.05}]},"mark":{"type":"point","filled":true,"fill":"#ffffff","stroke":"#8E7CC3","strokeWidth":1.5,"size":380,"opacity":1},"encoding":{"y":{"field":"v","type":"quantitative","axis":null}}},
 {"data":{"values":[{"label":"⚡","t":"2025-06-12T14:00Z","v":1.05}]},"mark":{"type":"text","font":"DejaVu Sans","fontSize":12,"align":"center","baseline":"middle","color":"#6A4CA8"},"encoding":{"y":{"field":"v","type":"quantitative","axis":null},"text":{"field":"label"}}},
 {"data":{"values":[{"t":"2025-06-12T15:27Z","v":1.75}]},"mark":{"type":"point","filled":true,"color":"#F23645","size":30,"opacity":1},"encoding":{"y":{"field":"v","type":"quantitative","axis":null}}},
 {"data":{"name":"volTags"},"mark":{"type":"rect","cornerRadius":2},"encoding":{"x":{"field":"t1","type":"temporal"},"x2":{"field":"t2"},"y":{"field":"y1","type":"quantitative","axis":null},"y2":{"field":"y2"},"color":{"condition":{"test":"datum.kind==='vma'","value":"#F08A24"},"value":"#089981"}}},
 {"data":{"name":"volTags"},"mark":{"type":"text","fontSize":10,"fontWeight":"bold","align":"center","baseline":"middle","color":"#ffffff"},"encoding":{"x":{"field":"tm","type":"temporal"},"y":{"field":"ym","type":"quantitative","axis":null},"text":{"field":"label"}}}
]},
{"layer":[
 {"data":{"values":[{"t1":"2025-06-01T12:57Z","t2":"2025-06-16T06:24Z","a":80,"b":20}]},"mark":{"type":"rect","color":"#089981","opacity":0.13},"encoding":{"x":{"field":"t1","type":"temporal"},"x2":{"field":"t2"},
  "y":{"field":"a","type":"quantitative","axis":null,"scale":{"domain":[20,80],"range":[855.3,755.3],"zero":false,"nice":false}},
  "y2":{"field":"b"}}},
 {"data":{"values":[{"t1":"2025-06-01T01:21Z","t2":"2025-06-16T09:48Z","a":516,"b":-5}]},"mark":{"type":"rect","fill":"transparent","stroke":"#eff1f4","strokeWidth":1.5},"encoding":{"x":{"field":"t1","type":"temporal"},"x2":{"field":"t2"},"y":{"field":"a","type":"quantitative","axis":null},"y2":{"field":"b"}}},
 {"data":{"values":[{"t1":"2025-06-01T12:57Z","t2":"2025-06-16T06:24Z","r":80},{"t1":"2025-06-01T12:57Z","t2":"2025-06-16T06:24Z","r":50},{"t1":"2025-06-01T12:57Z","t2":"2025-06-16T06:24Z","r":20}]},"mark":{"type":"rule","color":"#555a60","strokeWidth":1,"strokeDash":[1,1]},"encoding":{"x":{"field":"t1","type":"temporal"},"x2":{"field":"t2"},"y":{"field":"r","type":"quantitative","axis":null}}},
 {"data":{"name":"divs"},"mark":{"type":"line","strokeWidth":2},"encoding":{"y":{"field":"r","type":"quantitative","axis":null},"detail":{"field":"id"},"color":{"field":"kind","type":"nominal","legend":null,"scale":{"domain":["bull","bear","hbull","hbear"],"range":["#089981","#E8505B","#C5DFD8","#DCCDCD"]}}}},
 {"mark":{"type":"line","color":"#12937C","strokeWidth":2},"encoding":{"y":{"field":"rsi","type":"quantitative","axis":null}}},
 {"data":{"name":"rsiTags"},"mark":{"type":"rect","cornerRadius":3},"encoding":{"x":{"field":"t1","type":"temporal"},"x2":{"field":"t2"},"y":{"field":"y1","type":"quantitative","axis":null},"y2":{"field":"y2"},"color":{"condition":{"test":"datum.kind==='bear'","value":"#F23645"},"value":"#089981"}}},
 {"data":{"name":"rsiTags"},"mark":{"type":"text","fontSize":11,"fontWeight":"bold","align":"center","baseline":"middle","color":"#ffffff"},"encoding":{"x":{"field":"tm","type":"temporal"},"y":{"field":"ym","type":"quantitative","axis":null},"text":{"field":"label"}}},
 {"data":{"values":[{"t":"2025-06-01T07:12Z","r":2.8},{"t":"2025-06-16T11:42Z","r":2.8}]},"mark":{"type":"point","filled":true,"color":"#f0f3f6","size":320,"opacity":1},"encoding":{"y":{"field":"r","type":"quantitative","axis":null}}},
 {"data":{"values":[{"label":"Z","t":"2025-06-01T07:12Z","r":2.8},{"label":"A","t":"2025-06-16T11:42Z","r":2.8}]},"mark":{"type":"text","fontSize":11,"align":"center","baseline":"middle"},"encoding":{"y":{"field":"r","type":"quantitative","axis":null},"text":{"field":"label"}}},
 {"data":{"values":[{"t":"2025-06-01T03:24Z","r":-16.2}]},"mark":{"type":"point","filled":true,"color":"#131722","opacity":1,"size":400,"shape":"M-1,-0.55H-0.1V0.55H-0.5V-0.1H-1ZM0.15,-0.3A0.24,0.24 0 1 0 0.15,-0.31ZM0.3,0.55L0.62,-0.55H1L0.68,0.55Z"},"encoding":{"y":{"field":"r","type":"quantitative","axis":null}}},
 {"data":{"values":[{"label":"TradingView","t":"2025-06-01T06:18Z","r":-16.2}]},"mark":{"type":"text","fontSize":13,"align":"left","baseline":"middle"},"encoding":{"y":{"field":"r","type":"quantitative","axis":null},"text":{"field":"label"}}},
 {"data":{"values":[{"t":"2025-06-15T16:12Z","r":-11.6}]},"mark":{"type":"point","shape":"diamond","stroke":"#d9dce0","strokeWidth":2,"size":500,"opacity":1},"encoding":{"y":{"field":"r","type":"quantitative","axis":null}}},
 {"data":{"values":[{"label":"@ RAFUN","t":"2025-06-15T19:54Z","r":-11.6}]},"mark":{"type":"text","fontSize":24,"align":"left","baseline":"middle","color":"#d9dce0"},"encoding":{"y":{"field":"r","type":"quantitative","axis":null},"text":{"field":"label"}}}
]}
],
"resolve":{"scale":{"y":"independent"}}
}
